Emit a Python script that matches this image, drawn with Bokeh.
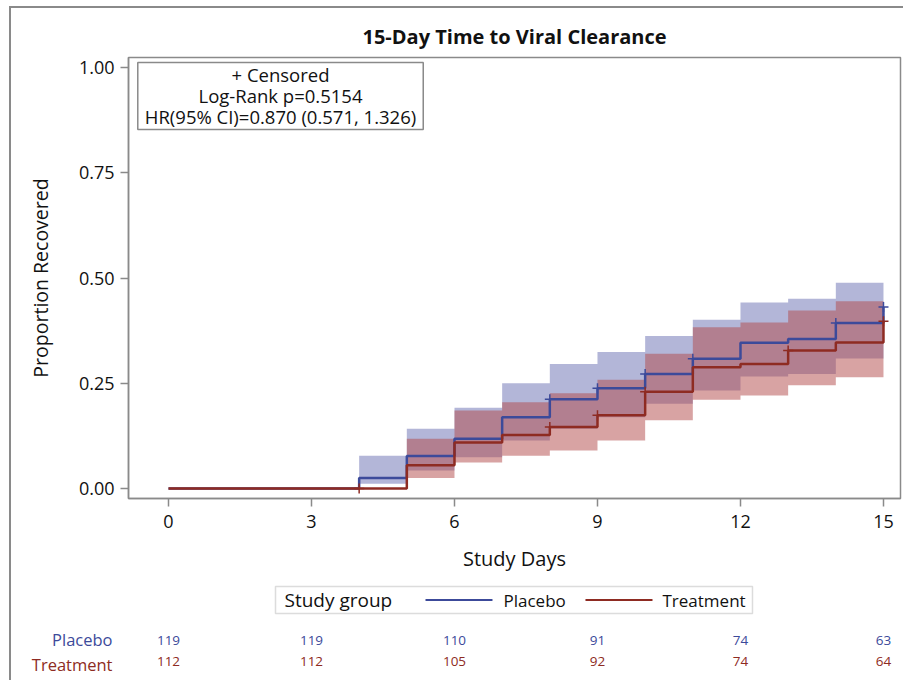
from bokeh.plotting import figure
from bokeh.layouts import column
from bokeh.models import Range1d, FixedTicker, Label, BoxAnnotation, NumeralTickFormatter
from bokeh.core.properties import value
from bokeh.embed import file_html
from bokeh.resources import INLINE

# ---------------- data ----------------
chart_title = "15-Day Time to Viral Clearance"
x_label = "Study Days"
y_label = "Proportion Recovered"
legend_title = "Study group"
group_names = ["Placebo", "Treatment"]

x_ticks = [0, 3, 6, 9, 12, 15]
y_ticks = [0.0, 0.25, 0.5, 0.75, 1.0]

# Kaplan-Meier step curves (proportion recovered)
pl_time = [0, 4, 5, 6, 7, 8, 9, 10, 11, 12, 13, 14, 15]
pl_prop = [0.0, 0.025, 0.077, 0.118, 0.169, 0.212, 0.238, 0.272, 0.308, 0.346, 0.355, 0.393, 0.431]
tr_time = [0, 5, 6, 7, 8, 9, 10, 11, 12, 13, 14, 15]
tr_prop = [0.0, 0.055, 0.109, 0.127, 0.146, 0.174, 0.230, 0.288, 0.296, 0.328, 0.347, 0.397]

# 95% confidence bands
pl_band_time = [4, 5, 6, 7, 8, 9, 10, 11, 12, 13, 14, 15]
pl_lower = [0.011, 0.043, 0.074, 0.114, 0.142, 0.169, 0.201, 0.233, 0.266, 0.272, 0.309, 0.340]
pl_upper = [0.078, 0.142, 0.192, 0.250, 0.296, 0.324, 0.362, 0.401, 0.442, 0.451, 0.489, 0.530]
tr_band_time = [5, 6, 7, 8, 9, 10, 11, 12, 13, 14, 15]
tr_lower = [0.025, 0.062, 0.078, 0.090, 0.114, 0.162, 0.211, 0.221, 0.245, 0.264, 0.300]
tr_upper = [0.118, 0.185, 0.205, 0.226, 0.258, 0.320, 0.383, 0.394, 0.423, 0.445, 0.500]

# censored observations
pl_cens_time = [8, 9, 10, 11, 14, 15]
pl_cens_prop = [0.212, 0.238, 0.272, 0.308, 0.393, 0.431]
tr_cens_time = [4, 8, 9, 10, 13, 15]
tr_cens_prop = [0.0, 0.146, 0.174, 0.230, 0.328, 0.397]

# statistics inset
stats_lines = ["+ Censored", "Log-Rank p=0.5154", "HR(95% CI)=0.870 (0.571, 1.326)"]

# number at risk
risk_days = [0, 3, 6, 9, 12, 15]
pl_risk = [119, 119, 110, 91, 74, 63]
tr_risk = [112, 112, 105, 92, 74, 64]

# ---------------- style ----------------
FONT = "Open Sans"
BLUE = "#3C4A9A"
RED = "#8E2B22"
BLUE_FILL = "#676DB1"
RED_FILL = "#B14747"
GREY = "#8a8a8a"
INK = "#111111"

p = figure(width=892, height=567,
           x_range=Range1d(-0.839, 15.357), y_range=Range1d(-0.0238, 1.0238),
           output_backend="svg", toolbar_location=None,
           min_border_left=117, min_border_right=3, min_border_top=49, min_border_bottom=77,
           title=chart_title)

p.title.text_font = FONT
p.title.text_font_size = "20px"
p.title.text_font_style = "bold"
p.title.align = "center"
p.title.text_color = INK
p.title.standoff = 16

p.xgrid.visible = False
p.ygrid.visible = False
p.outline_line_color = GREY
p.outline_line_width = 1.5

for ax in (p.xaxis, p.yaxis):
    ax.axis_line_color = GREY
    ax.axis_line_width = 1.5
    ax.major_tick_line_color = GREY
    ax.major_tick_line_width = 1.5
    ax.major_tick_in = 0
    ax.major_tick_out = 8
    ax.minor_tick_line_color = None
    ax.major_label_text_font = FONT
    ax.major_label_text_font_size = "18px"
    ax.major_label_text_color = INK
    ax.axis_label_text_font = FONT
    ax.axis_label_text_font_style = "normal"
    ax.axis_label_text_color = INK

p.xaxis.ticker = FixedTicker(ticks=x_ticks)
p.yaxis.ticker = FixedTicker(ticks=y_ticks)
p.yaxis.formatter = NumeralTickFormatter(format="0.00")
p.xaxis.axis_label = x_label
p.yaxis.axis_label = y_label
p.xaxis.axis_label_text_font_size = "20px"
p.yaxis.axis_label_text_font_size = "19.5px"
p.xaxis.major_label_standoff = 8
p.yaxis.major_label_standoff = 6
p.xaxis.axis_label_standoff = 14
p.yaxis.axis_label_standoff = 22

# bands
p.varea_step(x=pl_band_time, y1=pl_lower, y2=pl_upper, step_mode="after",
             fill_color=BLUE_FILL, fill_alpha=0.5)
p.varea_step(x=tr_band_time, y1=tr_lower, y2=tr_upper, step_mode="after",
             fill_color=RED_FILL, fill_alpha=0.5)

# curves
p.step(x=pl_time, y=pl_prop, mode="after", line_color=BLUE, line_width=2.5)
p.step(x=tr_time, y=tr_prop, mode="after", line_color=RED, line_width=2.5)

# censor marks
p.scatter(x=pl_cens_time, y=pl_cens_prop, marker="cross", size=10, line_color=BLUE, line_width=1.5)
p.scatter(x=tr_cens_time, y=tr_cens_prop, marker="cross", size=10, line_color=RED, line_width=1.5)

# stats inset
stats = Label(x=2.35, y=1.012, text="\n".join(stats_lines),
              text_align="center", text_baseline="top",
              text_font=FONT, text_font_size="18.5px", text_color=INK,
              text_line_height=0.84,
              border_line_color=GREY, border_line_width=1.5,
              background_fill_color="white", padding=(7, 0))
p.add_layout(stats)


def risk_panel(height, row_y, name, counts, color):
    """Panel sharing the day scale; its y axis counts pixels downward from its top edge."""
    f = figure(width=892, height=height,
               x_range=p.x_range, y_range=Range1d(height, 0),
               output_backend="svg", toolbar_location=None,
               x_axis_type=None,
               min_border_left=117, min_border_right=3, min_border_top=0, min_border_bottom=0)
    f.outline_line_color = None
    f.xgrid.visible = False
    f.ygrid.visible = False
    ax = f.yaxis[0]
    ax.ticker = FixedTicker(ticks=[row_y])
    ax.major_label_overrides = {row_y: name}
    ax.axis_line_color = None
    ax.major_tick_line_color = None
    ax.minor_tick_line_color = None
    ax.major_tick_out = 0
    ax.major_label_standoff = 16
    ax.major_label_text_font = FONT
    ax.major_label_text_font_size = "16.5px"
    ax.major_label_text_line_height = 0.7
    ax.major_label_text_color = color
    f.text(x=risk_days, y=[row_y] * len(risk_days), text=[str(c) for c in counts],
           text_align="center", text_baseline="middle",
           text_font=value(FONT), text_font_size="13.5px", text_color=color)
    return f


# ---------------- legend + number at risk ----------------
p2 = risk_panel(76, 65, group_names[0], pl_risk, BLUE)
p2.add_layout(BoxAnnotation(left=2.245, right=12.252, top=11, bottom=38,
                            fill_color=None, line_color=GREY, line_width=1.5))
p2.text(x=[2.434], y=[24.5], text=[legend_title], text_align="left", text_baseline="middle",
        text_font=value(FONT), text_font_size="19px", text_color=INK)
p2.segment(x0=[5.392, 8.748], y0=[24.5, 24.5], x1=[6.797, 10.154], y1=[24.5, 24.5],
           line_color=[BLUE, RED], line_width=2)
p2.text(x=[7.028, 10.364], y=[24.5, 24.5], text=group_names, text_align="left",
        text_baseline="middle", text_font=value(FONT), text_font_size="17px",
        text_color=INK)

p3 = risk_panel(29, 10, group_names[1], tr_risk, RED)

layout = column(p, p2, p3, spacing=0,
                styles={"margin-left": "9px", "margin-top": "6px",
                        "border-left": "2px solid " + GREY, "border-top": "2px solid " + GREY})

open("out.html", "w").write(file_html(layout, INLINE))
